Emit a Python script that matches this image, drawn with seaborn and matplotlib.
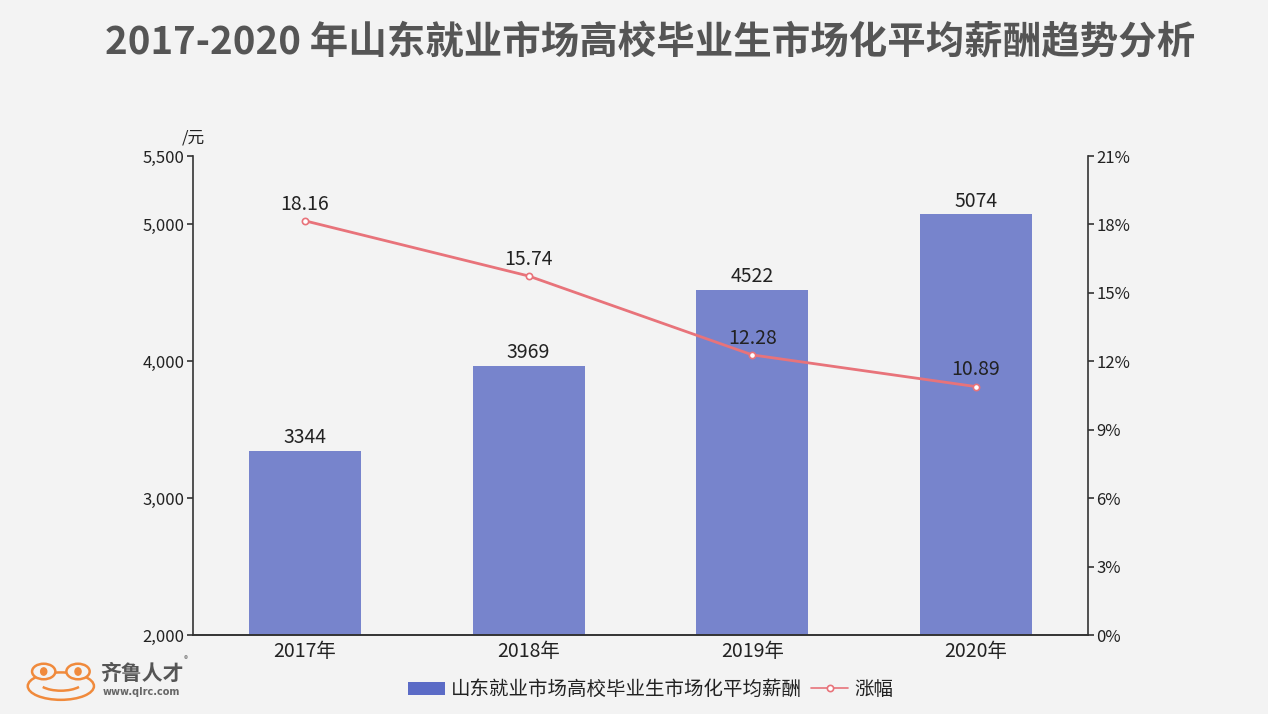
import numpy as np
import pandas as pd
import matplotlib
matplotlib.use('Agg')
import matplotlib.pyplot as plt
import seaborn as sns
from matplotlib.patches import Ellipse, Arc

years = ['2017年', '2018年', '2019年', '2020年']
salary = [3344, 3969, 4522, 5074]
growth = [18.16, 15.74, 12.28, 10.89]
left_ticks = [2000, 3000, 4000, 5000, 5500]
right_ticks = [0, 3, 6, 9, 12, 15, 18, 21]

title = '2017-2020 年山东就业市场高校毕业生市场化平均薪酬趋势分析'
bar_name = '山东就业市场高校毕业生市场化平均薪酬'
line_name = '涨幅'

bg = '#f3f3f3'
bar_color = '#7784cc'
line_color = '#e8737a'
text_color = '#222222'

sns.set_style('white')
plt.rcParams['font.family'] = ['Noto Sans CJK SC', 'DejaVu Sans']
plt.rcParams['axes.unicode_minus'] = False

df = pd.DataFrame({'year': years, 'salary': salary, 'growth': growth})

fig = plt.figure(figsize=(12.68, 7.14), dpi=100, facecolor=bg)
ax = fig.add_axes([0.1522, 0.1106, 0.7058, 0.6709])
ax.set_facecolor(bg)

sns.barplot(data=df, x='year', y='salary', color=bar_color, width=0.5,
            saturation=1, ax=ax, label=bar_name, linewidth=0, edgecolor='none')
ax.set_ylim(2000, 5500)
ax.set_yticks(left_ticks)
ax.set_yticklabels([f'{v:,}' for v in left_ticks], fontsize=12, color=text_color)
ax.set_xlabel('')
ax.set_ylabel('')
ax.tick_params(axis='x', length=0, labelsize=14, colors=text_color, pad=4)
ax.tick_params(axis='y', length=4, width=1.2, color='#333333', pad=2)
for i, v in enumerate(salary):
    ax.annotate(str(v), (i, v), xytext=(0, 2), textcoords='offset points',
                ha='center', va='bottom', fontsize=14, color=text_color)
ax.text(0, 1.02, '/元', transform=ax.transAxes, ha='center', va='bottom',
        fontsize=12, color=text_color)

ax2 = ax.twinx()
sns.pointplot(data=df, x='year', y='growth', color=line_color, ax=ax2,
              markers='o', label=line_name,
              linewidth=2, markersize=4.5, markerfacecolor='white',
              markeredgecolor=line_color, markeredgewidth=1.2)
ax2.set_ylim(0, 21)
ax2.set_yticks(right_ticks)
ax2.set_yticklabels([f'{v}%' for v in right_ticks], fontsize=12, color=text_color)
ax2.set_ylabel('')
ax2.set_xlabel('')
ax2.tick_params(axis='y', length=4, width=1.2, color='#333333', pad=2)
for i, v in enumerate(growth):
    ax2.annotate(f'{v:.2f}', (i, v), xytext=(0, 4.5), textcoords='offset points',
                 ha='center', va='bottom', fontsize=14, color=text_color)
ax2.set_xlim(-0.5, 3.5)

for a in (ax, ax2):
    a.spines['top'].set_visible(False)
    for s in ('left', 'right', 'bottom'):
        a.spines[s].set_color('#333333')
        a.spines[s].set_linewidth(1.2)
ax.spines['right'].set_visible(False)
ax2.spines['left'].set_visible(False)

# legend
h1, l1 = ax.get_legend_handles_labels()
h2, l2 = ax2.get_legend_handles_labels()
if ax.get_legend():
    ax.get_legend().remove()
if ax2.get_legend():
    ax2.get_legend().remove()
leg = fig.legend(h1 + h2, l1 + l2, loc='center', bbox_to_anchor=(0.513, 0.034),
                 ncol=2, frameon=False, fontsize=14, handlelength=1.9,
                 handletextpad=0.3, columnspacing=0.5, labelcolor=text_color)
leg.legend_handles[0].set_facecolor('#5b6bc6')
leg.legend_handles[1].set_linewidth(1.2)

fig.text(0.513, 0.94, title, ha='center', va='center', fontsize=27.7,
         fontweight='bold', color='#555555')

# logo
lax = fig.add_axes([0.019, 0.016, 0.058, 0.064])
lax.set_xlim(0, 60)
lax.set_ylim(0, 50)
lax.axis('off')
orange = '#f08a3c'
lax.add_patch(Ellipse((30, 18), 54, 30, fill=False, ec=orange, lw=1.8))
lax.add_patch(Ellipse((16, 34), 19, 17, ec=orange, lw=1.8, fc=bg))
lax.add_patch(Ellipse((44, 34), 19, 17, ec=orange, lw=1.8, fc=bg))
lax.add_patch(Ellipse((16, 34), 5, 8, color=orange))
lax.add_patch(Ellipse((44, 34), 5, 8, color=orange))
lax.add_patch(Arc((30, 24), 38, 22, theta1=205, theta2=335, ec=orange, lw=1.8))
fig.text(0.079, 0.057, '齐鲁人才', fontsize=15, fontweight='bold', color='#555555',
         ha='left', va='center')
fig.text(0.145, 0.076, '®', fontsize=6, color='#777777', ha='left', va='center')
fig.text(0.081, 0.031, 'www.qlrc.com', fontsize=7, fontweight='bold', color='#666666',
         ha='left', va='center', family='DejaVu Sans')

fig.savefig('out.png', dpi=100, facecolor=bg)
